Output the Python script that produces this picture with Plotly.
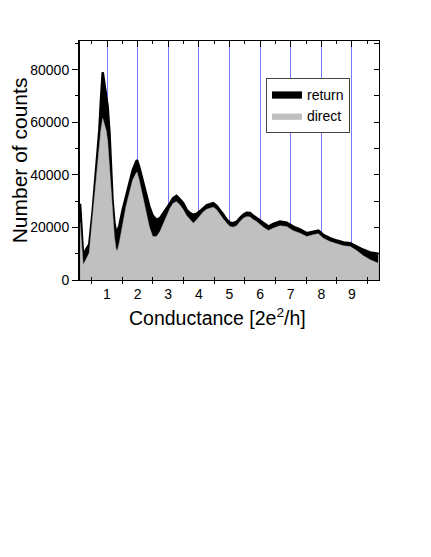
import plotly.graph_objects as go

# Conductance (units of 2e^2/h)
conductance = [0.12, 0.17, 0.22, 0.31, 0.42, 0.53, 0.64, 0.75, 0.80, 0.86, 0.91, 0.97,
               1.02, 1.08, 1.13, 1.18, 1.24, 1.29, 1.33, 1.40, 1.51, 1.62, 1.73, 1.84,
               1.95, 1.98, 2.05, 2.16, 2.27, 2.38, 2.49, 2.62, 2.73, 2.84, 2.95, 3.06,
               3.16, 3.27, 3.38, 3.49, 3.60, 3.71, 3.82, 3.93, 4.04, 4.15, 4.26, 4.36,
               4.47, 4.58, 4.69, 4.80, 4.91, 5.02, 5.12, 5.24, 5.34, 5.45, 5.56, 5.67,
               5.78, 5.89, 6.10, 6.27, 6.43, 6.65, 6.87, 7.08, 7.30, 7.52, 7.74, 7.90,
               8.06, 8.28, 8.50, 8.72, 8.94, 9.15, 9.37, 9.59, 9.86]

return_counts = [29000, 20000, 9000, 11500, 13500, 26000, 40000, 57000, 68000, 79000, 75000, 70000,
                 66000, 56000, 43000, 30500, 22000, 18500, 18500, 20500, 26600, 31700, 36800, 41800,
                 45000, 45600, 43000, 38000, 33000, 28000, 24500, 22900, 23500, 25400, 26900, 29200,
                 31100, 32000, 30700, 29200, 26700, 25400, 24800, 25200, 26200, 27300, 28500, 28800,
                 29200, 28200, 26700, 24800, 22900, 21800, 21600, 22200, 23500, 24800, 25600, 25500,
                 24400, 23500, 21600, 20300, 21300, 22200, 21800, 20300, 19300, 17800, 18400, 18800,
                 17200, 15900, 15000, 14300, 14000, 12700, 11500, 10500, 10000]

direct_counts = [22000, 12000, 5800, 7700, 10300, 24000, 38000, 52000, 57000, 61400, 59600, 57000,
                 53000, 43000, 33000, 24000, 16500, 12100, 10800, 14000, 21600, 27900, 33000, 38000,
                 40600, 41000, 38000, 31700, 25500, 20300, 16500, 16500, 18400, 21600, 24800, 27300,
                 29200, 29800, 28500, 26700, 24400, 22900, 21600, 22900, 24500, 26000, 26900, 27300,
                 27700, 26700, 24800, 23100, 21600, 20300, 20100, 20600, 22200, 23500, 24100, 24000,
                 22900, 22200, 20100, 18800, 19700, 20600, 20300, 18700, 17800, 16500, 17200, 17600,
                 15900, 14600, 13800, 13000, 12700, 11200, 9200, 7700, 6400]

int_ticks = [1, 2, 3, 4, 5, 6, 7, 8, 9]
int_labels = ["1", "2", "3", "4", "5", "6", "7", "8", "9"]
half_ticks = [0.5, 1.5, 2.5, 3.5, 4.5, 5.5, 6.5, 7.5, 8.5, 9.5]
y_major = [0, 20000, 40000, 60000, 80000]
y_minor = [10000, 30000, 50000, 70000, 90000]

x_range = [0.118, 9.882]
y_range = [0, 90900]

FONT = "Arial, Liberation Sans, sans-serif"

fig = go.Figure()
fig.add_trace(go.Scatter(x=conductance, y=return_counts, name="return", mode="lines",
                         fill="tozeroy", fillcolor="black",
                         line=dict(color="black", width=2.5)))
fig.add_trace(go.Scatter(x=conductance, y=direct_counts, name="direct", mode="lines",
                         fill="tozeroy", fillcolor="#c0c0c0",
                         line=dict(color="#c0c0c0", width=0.5)))

# dummy traces to activate overlay axes
for xa, ya in [("x2", "y"), ("x3", "y"), ("x4", "y"), ("x", "y2")]:
    fig.add_trace(go.Scatter(x=[None], y=[None], xaxis=xa, yaxis=ya,
                             showlegend=False, hoverinfo="skip"))

fig.update_layout(
    width=431, height=557,
    margin=dict(l=72, r=60, t=32.5, b=284.7),
    paper_bgcolor="white", plot_bgcolor="white",
    font=dict(family=FONT, color="black", size=13),
    showlegend=True,
    legend=dict(x=0.622, y=0.845, xanchor="left", yanchor="top",
                bgcolor="white", bordercolor="#444", borderwidth=1,
                font=dict(size=14, family=FONT), itemwidth=30,
                tracegroupgap=0),
    xaxis=dict(range=x_range, tickmode="array", tickvals=int_ticks, ticktext=int_labels,
               ticks="", showgrid=True, gridcolor="#7878ff", gridwidth=1,
               zeroline=False, showline=True, linecolor="black", linewidth=1,
               tickfont=dict(size=14), ticklabelstandoff=1, automargin=False),
    xaxis2=dict(range=x_range, overlaying="x", anchor="y", side="bottom",
                tickmode="array", tickvals=half_ticks, ticks="outside", ticklen=3,
                tickcolor="black", showticklabels=False, showgrid=False, zeroline=False,
                showline=False, automargin=False),
    xaxis3=dict(range=x_range, overlaying="x", anchor="y", side="bottom",
                tickmode="array", tickvals=half_ticks, ticks="inside", ticklen=3,
                tickcolor="black", showticklabels=False, showgrid=False, zeroline=False,
                showline=False, automargin=False),
    xaxis4=dict(range=x_range, overlaying="x", anchor="y", side="top",
                tickmode="array", tickvals=int_ticks, ticks="inside", ticklen=6,
                tickcolor="black", showticklabels=False, showgrid=False, zeroline=False,
                showline=True, linecolor="black", linewidth=1, automargin=False,
                minor=dict(tickmode="array", tickvals=half_ticks, ticks="inside", ticklen=3,
                           tickcolor="black")),
    yaxis=dict(range=y_range, tickmode="array", tickvals=y_major,
               ticktext=[str(v) for v in y_major], ticks="outside", ticklen=6,
               tickcolor="black", showgrid=False, zeroline=False,
               showline=True, linecolor="black", linewidth=2, automargin=False,
               tickfont=dict(size=14),
               minor=dict(tickmode="array", tickvals=y_minor, ticks="outside", ticklen=3,
                          tickcolor="black"),
               title=dict(text="Number of counts", font=dict(size=21), standoff=6)),
    yaxis2=dict(range=y_range, overlaying="y", anchor="x", side="right",
                tickmode="array", tickvals=y_major + y_minor, ticks="inside", ticklen=5,
                tickcolor="black", showticklabels=False, showgrid=False, zeroline=False,
                showline=True, linecolor="black", linewidth=1, automargin=False),
    annotations=[dict(text="Conductance [2e<sup>2</sup>/h]", xref="paper", yref="paper",
                      x=0.46, y=-0.153, xanchor="center", yanchor="middle",
                      showarrow=False, font=dict(size=19.5, family=FONT, color="black"))],
)

fig.write_html("out.html")
